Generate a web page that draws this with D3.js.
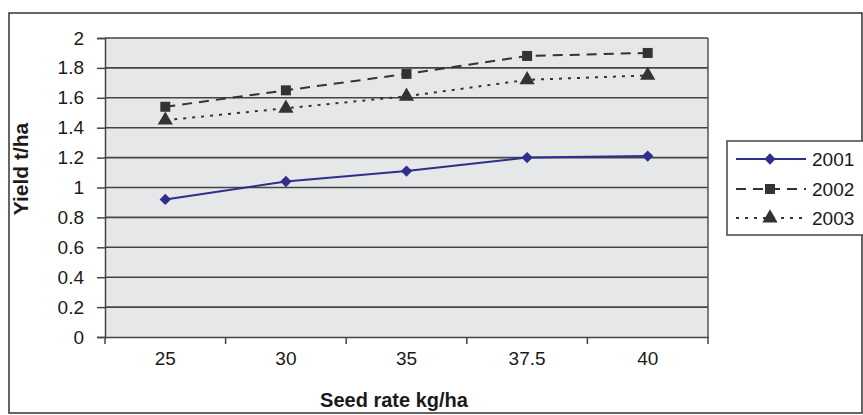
<!DOCTYPE html>
<html><head><meta charset="utf-8">
<script src="https://cdn.jsdelivr.net/npm/d3@7"></script>
<style>body{margin:0;background:#fff}svg{display:block}text{font-family:"Liberation Sans",Arial,sans-serif}</style>
</head><body>
<svg id="c" width="863" height="415"></svg>
<script>
const categories = ["25", "30", "35", "37.5", "40"];
const y2001 = [0.92, 1.04, 1.11, 1.20, 1.21];
const y2002 = [1.54, 1.65, 1.76, 1.88, 1.90];
const y2003 = [1.45, 1.53, 1.61, 1.72, 1.75];
const seriesNames = ["2001", "2002", "2003"];
const yTicks = [0, 0.2, 0.4, 0.6, 0.8, 1, 1.2, 1.4, 1.6, 1.8, 2];

const svg = d3.select("#c");
const L = 105, R = 708, T = 38, B = 337;
const x = d3.scaleBand().domain(categories).range([L, R]);
const y = d3.scaleLinear().domain([0, 2]).range([B, T]);

// outer border
svg.append("rect").attr("x", 9).attr("y", 13).attr("width", 853).attr("height", 400)
  .attr("fill", "#fff").attr("stroke", "#333").attr("stroke-width", 1.5);

// plot area
svg.append("rect").attr("x", L).attr("y", T).attr("width", R - L).attr("height", B - T)
  .attr("fill", "#e6e7e9");

// gridlines
svg.append("g").selectAll("line").data(yTicks.filter(d => d > 0)).join("line")
  .attr("x1", L).attr("x2", R).attr("y1", d => y(d)).attr("y2", d => y(d))
  .attr("stroke", "#444").attr("stroke-width", 1.6);

// right border
svg.append("line").attr("x1", R).attr("x2", R).attr("y1", T).attr("y2", B)
  .attr("stroke", "#555").attr("stroke-width", 1.5);

// y axis
const ya = svg.append("g").attr("transform", `translate(${L},0)`)
  .call(d3.axisLeft(y).tickValues(yTicks).tickSize(8).tickPadding(13).tickFormat(d3.format("~g")));
ya.attr("font-size", 19).attr("font-family", null);
ya.select(".domain").attr("stroke", "#444").attr("stroke-width", 1.5);
ya.selectAll(".tick line").attr("stroke", "#444").attr("stroke-width", 1.5);
ya.selectAll("text").attr("fill", "#1a1a1a");

// x axis
const xa = svg.append("g").attr("transform", `translate(0,${B})`)
  .call(d3.axisBottom(x).tickSize(0).tickPadding(15));
xa.attr("font-size", 19).attr("font-family", null);
xa.select(".domain").attr("stroke", "#444").attr("stroke-width", 1.5);
xa.selectAll("text").attr("fill", "#1a1a1a");
// boundary tick marks
const bounds = categories.map(c => x(c)).concat([R]);
svg.append("g").selectAll("line").data(bounds).join("line")
  .attr("x1", d => d).attr("x2", d => d).attr("y1", B).attr("y2", B + 7)
  .attr("stroke", "#444").attr("stroke-width", 1.5);

// axis titles
svg.append("text").attr("x", 394).attr("y", 407).attr("text-anchor", "middle")
  .attr("font-size", 20).attr("font-weight", "bold").attr("fill", "#1a1a1a").text("Seed rate kg/ha");
svg.append("text").attr("transform", "translate(28,169) rotate(-90)").attr("text-anchor", "middle")
  .attr("font-size", 21).attr("font-weight", "bold").attr("fill", "#1a1a1a").text("Yield t/ha");

const cx = d => x(d) + x.bandwidth() / 2;
const series = [
  {name: seriesNames[0], vals: y2001, color: "#2e2e8c", dash: null, sym: d3.symbolSquare, rot: 45, size: 64, w: 2},
  {name: seriesNames[1], vals: y2002, color: "#333", dash: "10,7", sym: d3.symbolSquare, rot: 0, size: 100, w: 2},
  {name: seriesNames[2], vals: y2003, color: "#333", dash: "3,6", sym: d3.symbolTriangle, rot: 0, size: 100, w: 2}
];
const line = d3.line().x(d => cx(d.c)).y(d => y(d.v));
series.forEach(s => {
  const pts = categories.map((c, i) => ({c, v: s.vals[i]}));
  svg.append("path").datum(pts).attr("d", line).attr("fill", "none")
    .attr("stroke", s.color).attr("stroke-width", s.w).attr("stroke-dasharray", s.dash);
  svg.append("g").selectAll("path").data(pts).join("path")
    .attr("transform", d => `translate(${cx(d.c)},${y(d.v)}) rotate(${s.rot})`)
    .attr("d", d3.symbol().type(s.sym).size(s.size)).attr("fill", s.color);
});

// legend
svg.append("rect").attr("x", 727).attr("y", 141).attr("width", 150).attr("height", 94)
  .attr("fill", "#fff").attr("stroke", "#444").attr("stroke-width", 1.5);
const ly = [159, 189, 218];
series.forEach((s, i) => {
  svg.append("line").attr("x1", 736).attr("x2", 806).attr("y1", ly[i]).attr("y2", ly[i])
    .attr("stroke", s.color).attr("stroke-width", s.w).attr("stroke-dasharray", s.dash);
  svg.append("path").attr("transform", `translate(770,${ly[i]}) rotate(${s.rot})`)
    .attr("d", d3.symbol().type(s.sym).size(s.size)).attr("fill", s.color);
  svg.append("text").attr("x", 812).attr("y", ly[i] + 7).attr("font-size", 19).attr("fill", "#1a1a1a").text(s.name);
});
</script>
</body></html>
